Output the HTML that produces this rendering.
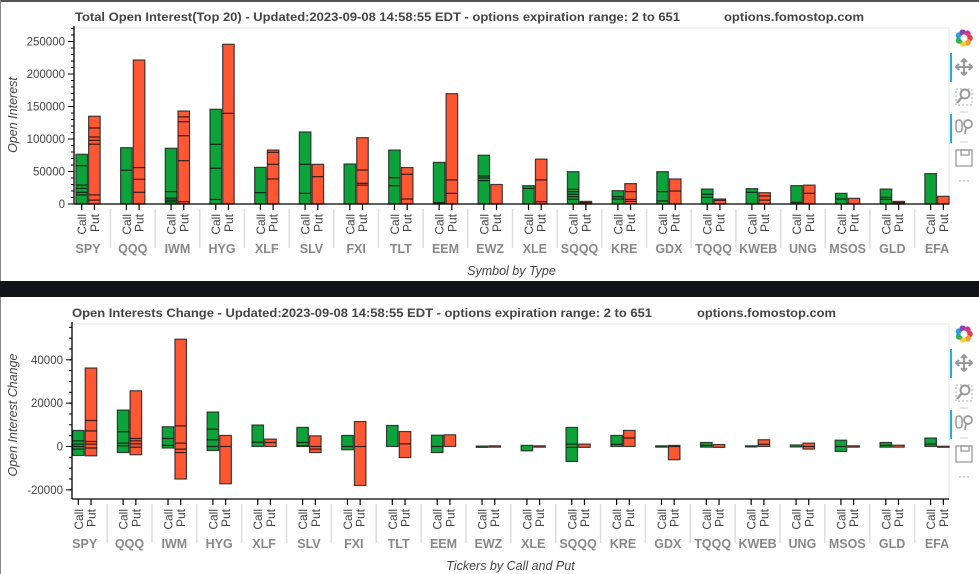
<!DOCTYPE html>
<html><head><meta charset="utf-8">
<style>
html,body{margin:0;padding:0;background:#fff;width:979px;height:574px;overflow:hidden;font-family:"Liberation Sans",Arial,sans-serif;}
svg{display:block}
</style></head>
<body>
<svg id="svg" width="979" height="574" xmlns="http://www.w3.org/2000/svg">
<rect x="0" y="0" width="979" height="574" fill="#fff"/>
<rect x="0" y="0" width="979" height="2" fill="#555"/>
<rect x="0" y="0" width="1" height="281" fill="#888"/>
<rect x="0" y="281" width="979" height="16" fill="#111318"/>
<rect x="0" y="297" width="1" height="277" fill="#888"/>
<g id="c1"></g>
<g id="c2"></g>
</svg>
<script>
const tickers = ["SPY","QQQ","IWM","HYG","XLF","SLV","FXI","TLT","EEM","EWZ","XLE","SQQQ","KRE","GDX","TQQQ","KWEB","UNG","MSOS","GLD","EFA"];
const types = ["Call","Put"];
// Total open interest: stacked segment boundaries per bar (values)
const oiCall = [
 [0,14000,18000,24000,29000,59000,76500],[0,52000,86600],[0,3500,6000,9000,19000,85700],[0,7000,55000,91800,145700],
 [0,17400,56400],[0,16400,61000,110800],[0,61500],[0,28200,40500,83000],[0,2000,64000],[0,36000,40000,43000,75000],
 [0,24000,28200],[0,7200,11300,15000,19000,22600,49700],[0,7700,11300,20500],[0,4600,19000,49700],[0,10300,15000,23000],
 [0,18000,23600],[0,2500,28200],[0,7700,16400],[0,7200,10300,23000],[0,46700]];
const oiPut = [
 [0,6000,14000,92000,98000,103000,117000,135000],[0,18000,38000,56000,221500],[0,3500,66600,105000,126600,134000,143000],[0,139500,245700],
 [0,38500,61000,79500,83000],[0,42000,61000],[0,29000,31800,52300,102000],[0,7700,45700,56000],[0,16400,37000,169700],[0,30000],
 [0,3500,37000,69000],[0,2000,4000],[0,4000,7200,19000,31300],[0,20000,38500],[0,5700,7700],
 [0,6000,12300,17400],[0,16400,29000],[0,8700],[0,2000,4000],[0,11800]];
// Open interest change: segment boundaries (min..max)
const chCall = [
 [-4150,-1200,0,1100,2600,7400],[-2800,300,1550,6800,16800],[-700,500,3700,9100],[-1850,0,3100,8000,15900],
 [0,2000,9900],[0,300,1850,8800],[-1500,0,5100],[0,9700],[-2800,0,5200],[-400,200],
 [-2000,500],[-6900,-400,1100,8800],[0,1000,5100],[-300,300],[-300,500,1850],
 [-200,300],[-200,700],[-2300,0,2900],[-300,500,1850],[0,1100,3900]];
const chPut = [
 [-4300,-700,1100,2300,7200,12000,36200],[-3800,-300,1200,2600,3700,25700],[-15000,-2800,-1200,1550,9500,49500],[-17200,0,5100],
 [0,1850,3400],[-2800,-1200,0,4900],[-18000,0,11500],[-5100,1200,6900],[0,5400],[-300,300],
 [-300,300],[-400,1100],[0,3900,7400],[-6100,0,500],[-400,900],
 [0,1000,3100],[-1200,0,1550],[-300,300],[-300,600],[-100,100]];
const oiTicks = [0,50000,100000,150000,200000,250000];
const chTicks = [-20000,0,20000,40000];

const NS="http://www.w3.org/2000/svg";
function mk(parent,tag,attrs,text){const e=document.createElementNS(NS,tag);for(const k in attrs)e.setAttribute(k,attrs[k]);if(text!==undefined)e.textContent=text;parent.appendChild(e);return e;}

function chart(g,cfg){
  const {left,right,top,bottom,yMin,yMax,x0,pitch,off,ticks,minor,callData,putData,title1,title2,t1x,t1w,t2x,t2w,ty,xTitle,yTitle,yTitleY,tbTop}=cfg;
  const y=v=>bottom-(v-yMin)/(yMax-yMin)*(bottom-top);
  const xc=(i,t)=>x0+i*pitch+(t?off:0);
  const fr=mk(g,'rect',{x:left,y:top,width:right-left,height:bottom-top,fill:'none',stroke:'#e5e5e5','stroke-width':1});
  
  
  let t=mk(g,'text',{x:t1x,y:ty,'font-size':12,'font-weight':'bold',fill:'#444',textLength:t1w,lengthAdjust:'spacingAndGlyphs'},title1);
  
  
  t=mk(g,'text',{x:t2x,y:ty,'font-size':12,'font-weight':'bold',fill:'#444',textLength:t2w,lengthAdjust:'spacingAndGlyphs'},title2);
  
  
  const drawBar=(i,tp,b)=>{
    const cx=xc(i,tp), w=11.5;
    const lo=Math.min(...b), hi=Math.max(...b);
    const r=mk(g,'rect',{x:cx-w/2,y:y(hi),width:w,height:Math.max(1,y(lo)-y(hi)),fill:tp?'#ff5733':'#0ca33a',stroke:'#222','stroke-width':1.2,'stroke-opacity':0.85});
    
    
    b.forEach(v=>{ if(v!==lo&&v!==hi){const l=mk(g,'line',{x1:cx-w/2,x2:cx+w/2,y1:y(v),y2:y(v),stroke:'#111','stroke-width':1.2,'stroke-opacity':0.85});
      
      }});
  };
  tickers.forEach((tk,i)=>{drawBar(i,0,callData[i]);drawBar(i,1,putData[i]);});
  mk(g,'line',{x1:left,x2:left,y1:top-2,y2:bottom,stroke:'#000','stroke-width':1.3});
  mk(g,'line',{x1:left,x2:right,y1:bottom,y2:bottom,stroke:'#000','stroke-width':1.3});
  ticks.forEach(v=>{
    mk(g,'line',{x1:left-6,x2:left,y1:y(v),y2:y(v),stroke:'#000'});
    const tl=mk(g,'text',{x:left-9,y:y(v)+4,'font-size':11.5,fill:'#444','text-anchor':'end'},String(v));
    
    
  });
  for(let v=Math.ceil(yMin/minor)*minor; v<=yMax; v+=minor){ mk(g,'line',{x1:left-3,x2:left,y1:y(v),y2:y(v),stroke:'#000'}); }
  tickers.forEach((tk,i)=>{
    types.forEach((tp,k)=>{
      const cx=xc(i,k);
      mk(g,'line',{x1:cx,x2:cx,y1:bottom,y2:bottom+6,stroke:'#000','stroke-width':1.2});
      const tl=mk(g,'text',{x:0,y:0,'font-size':12,fill:'#444','text-anchor':'end',transform:`translate(${cx+4.5},${bottom+10}) rotate(-90)`},tp);
      
      
    });
    const gl=mk(g,'text',{x:xc(i,0)+off/2,y:bottom+49,'font-size':12.5,'font-weight':'bold',fill:'#888','text-anchor':'middle'},tk);
    
    
    if(i>0){const sx=xc(i,0)-(pitch-off)/2; mk(g,'line',{x1:sx,x2:sx,y1:bottom+5,y2:bottom+44,stroke:'#ddd','stroke-width':1.5});}
  });
  const xt=mk(g,'text',{x:(left+right)/2,y:bottom+71,'font-size':12.5,'font-style':'italic',fill:'#444','text-anchor':'middle'},xTitle);
  
  
  const yt=mk(g,'text',{x:0,y:0,'font-size':12.5,'font-style':'italic',fill:'#444','text-anchor':'middle',transform:`translate(17,${yTitleY}) rotate(-90)`},yTitle);
  
  
  const tx=964, T=tbTop;
  const tb=mk(g,'g',{});
  
  
  const cols=['#e8413c','#f79a2f','#f4d23a','#35b34a','#2e9fd8','#7c4ab8','#d8367e'];
  cols.forEach((c,k)=>{const a=k/7*Math.PI*2; mk(tb,'circle',{cx:tx+Math.cos(a)*5.5,cy:T+Math.sin(a)*5.5,r:3.3,fill:c});});
  mk(tb,'circle',{cx:tx,cy:T,r:3.5,fill:'#fff'});
  mk(tb,'rect',{x:950,y:T+15,width:2,height:29,fill:'#26aae1'});
  mk(tb,'rect',{x:950,y:T+76,width:2,height:29,fill:'#26aae1'});
  const pan=mk(tb,'path',{d:`M${tx-8} ${T+29}h16M${tx} ${T+21}v16M${tx-3} ${T+24}l3 -3l3 3M${tx-3} ${T+34}l3 3l3 -3M${tx-5} ${T+26}l-3 3l3 3M${tx+5} ${T+26}l3 3l-3 3`,stroke:'#999','stroke-width':2,fill:'none'});
  
  
  const bz=mk(tb,'g',{});
  
  
  mk(bz,'rect',{x:tx-8,y:T+51,width:16,height:16,fill:'none',stroke:'#aaa','stroke-dasharray':'2 2'});
  mk(bz,'circle',{cx:tx+1,cy:T+56,r:4.5,fill:'none',stroke:'#999','stroke-width':2});
  mk(bz,'line',{x1:tx-2,y1:T+59,x2:tx-7,y2:T+65,stroke:'#999','stroke-width':2.5});
  mk(tb,'line',{x1:tx-4,x2:tx+4,y1:T+74,y2:T+74,stroke:'#ccc'});
  const wz=mk(tb,'g',{});
  
  
  mk(wz,'rect',{x:tx-8,y:T+82,width:6,height:12,rx:3,fill:'none',stroke:'#999','stroke-width':1.5});
  mk(wz,'circle',{cx:tx+4,cy:T+86,r:4,fill:'none',stroke:'#999','stroke-width':1.8});
  mk(wz,'line',{x1:tx+2,y1:T+90,x2:tx+1,y2:T+96,stroke:'#999','stroke-width':1.8});
  mk(tb,'line',{x1:tx-4,x2:tx+4,y1:T+104,y2:T+104,stroke:'#ccc'});
  const sv=mk(tb,'g',{});
  
  
  mk(sv,'rect',{x:tx-8,y:T+112,width:16,height:16,fill:'none',stroke:'#999','stroke-width':1.3});
  mk(sv,'rect',{x:tx-3,y:T+112,width:8,height:5,fill:'none',stroke:'#999','stroke-width':1.3});
  const more=mk(tb,'text',{x:tx,y:T+146,'font-size':12,fill:'#999','text-anchor':'middle'},'···');
  
  
}

chart(document.getElementById('c1'),{left:74,right:949,top:28,bottom:204,yMin:0,yMax:270770,x0:81.7,pitch:44.68,off:12.7,
  ticks:oiTicks,minor:10000,callData:oiCall,putData:oiPut,
  title1:"Total Open Interest(Top 20) - Updated:2023-09-08 14:58:55 EDT - options expiration range: 2 to 651",title2:"options.fomostop.com",
  t1x:75,t1w:605,t2x:724,t2w:140,ty:21,xTitle:"Symbol by Type",yTitle:"Open Interest",yTitleY:115,tbTop:38});
chart(document.getElementById('c2'),{left:72,right:949,top:324,bottom:499,yMin:-24230,yMax:56520,x0:78.3,pitch:44.86,off:12.7,
  ticks:chTicks,minor:5000,callData:chCall,putData:chPut,
  title1:"Open Interests Change - Updated:2023-09-08 14:58:55 EDT - options expiration range: 2 to 651",title2:"options.fomostop.com",
  t1x:72,t1w:580,t2x:697,t2w:139,ty:317,xTitle:"Tickers by Call and Put",yTitle:"Open Interest Change",yTitleY:415,tbTop:334});
</script>
</body></html>
